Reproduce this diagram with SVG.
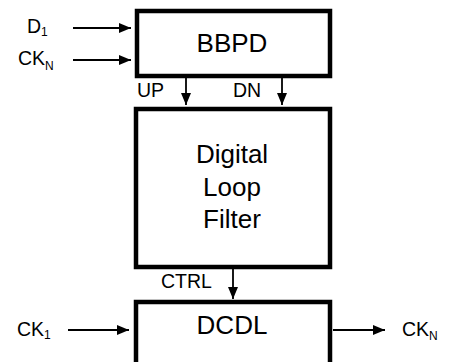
<svg xmlns="http://www.w3.org/2000/svg" width="449" height="362" viewBox="0 0 449 362">
<defs>
<marker id="ah" viewBox="0 0 12 10" refX="12" refY="5" markerWidth="12" markerHeight="10" markerUnits="userSpaceOnUse" orient="auto">
<path d="M0,0 L12,5 L0,10 z" fill="#000"/>
</marker>
<style>
.box{fill:#fff;stroke:#000;stroke-width:4.5}
.t{font-family:"Liberation Sans",Arial,sans-serif;fill:#000}
.big{font-size:26px;text-anchor:middle}
.lbl{font-size:19.5px}
.sub{font-size:12px}
.c{stroke:#000;stroke-width:1.8;fill:none;marker-end:url(#ah)}
</style>
</defs>
<rect width="449" height="362" fill="#fff"/>
<g id="bbpd">
<rect class="box" x="137" y="11" width="193" height="65"/>
<text class="t big" x="232" y="52">BBPD</text>
</g>
<g id="dlf">
<rect class="box" x="136" y="109" width="194" height="158"/>
<text class="t big" x="232" y="163">Digital</text>
<text class="t big" x="232" y="196">Loop</text>
<text class="t big" x="232" y="228">Filter</text>
</g>
<g id="dcdl">
<rect class="box" x="136" y="302" width="194" height="70"/>
<text class="t big" x="232" y="334">DCDL</text>
</g>
<g id="labels">
<text class="t lbl" x="27" y="33">D<tspan class="sub" dy="3">1</tspan></text>
<text class="t lbl" x="18" y="65">CK<tspan class="sub" dy="5">N</tspan></text>
<text class="t lbl" x="137" y="97">UP</text>
<text class="t lbl" x="233" y="97">DN</text>
<text class="t lbl" x="161" y="288">CTRL</text>
<text class="t lbl" x="17" y="336">CK<tspan class="sub" dy="3">1</tspan></text>
<text class="t lbl" x="402" y="336">CK<tspan class="sub" dy="4">N</tspan></text>
</g>
<g id="connectors">
<line class="c" x1="73" y1="28" x2="131" y2="28"/>
<line class="c" x1="73" y1="60" x2="131" y2="60"/>
<line class="c" x1="186" y1="78" x2="186" y2="105"/>
<line class="c" x1="282" y1="78" x2="282" y2="105"/>
<line class="c" x1="233" y1="269" x2="233" y2="299"/>
<line class="c" x1="68" y1="330" x2="129" y2="330"/>
<line class="c" x1="333" y1="330" x2="385" y2="330"/>
</g>
</svg>
